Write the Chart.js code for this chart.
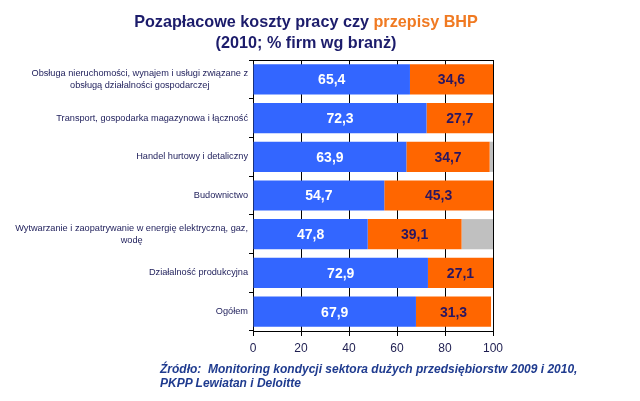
<!DOCTYPE html>
<html>
<head>
<meta charset="utf-8">
<script src="https://cdn.jsdelivr.net/npm/chart.js@4.4.1/dist/chart.umd.min.js"></script>
<style>
  html, body { margin: 0; padding: 0; background: #fff; }
  #wrap { position: relative; width: 640px; height: 401px; overflow: hidden; }
  #c { position: absolute; left: 0; top: 0; }
  #title { position: absolute; left: 106px; width: 400px; top: 11px; text-align: center;
    font: bold 16.2px "Liberation Sans", Arial, sans-serif; line-height: 21px; color: #1c1c6b; }
  #title .hl { color: #f07a22; }
  #source { position: absolute; left: 160px; top: 362px; width: 470px;
    font: italic bold 12px "Liberation Sans", Arial, sans-serif; line-height: 14px; color: #1f3b8f; }
</style>
</head>
<body>
<div id="wrap">
  <canvas id="c" width="640" height="401"></canvas>
  <div id="title">Pozapłacowe koszty pracy czy <span class="hl">przepisy BHP</span><br>(2010; % firm wg branż)</div>
  <div id="source">Źródło:&nbsp; Monitoring kondycji sektora dużych przedsiębiorstw 2009 i 2010,<br>PKPP Lewiatan i Deloitte</div>
</div>
<script>
const categories = [
  ['Obsługa nieruchomości, wynajem i usługi związane z', 'obsługą działalności gospodarczej'],
  ['Transport, gospodarka magazynowa i łączność'],
  ['Handel hurtowy i detaliczny'],
  ['Budownictwo'],
  ['Wytwarzanie i zaopatrywanie w energię elektryczną, gaz,', 'wodę'],
  ['Działalność produkcyjna'],
  ['Ogółem']
];
const pozaplacowe = [65.4, 72.3, 63.9, 54.7, 47.8, 72.9, 67.9];
const bhp = [34.6, 27.7, 34.7, 45.3, 39.1, 27.1, 31.3];
const reszta = [0, 0, 1.4, 0, 13.1, 0, 0];
const xTicks = [0, 20, 40, 60, 80, 100];

const FONT = '"Liberation Sans", Arial, sans-serif';

const labelsPlugin = {
  id: 'customLabels',
  afterDatasetsDraw(chart) {
    const ctx = chart.ctx;
    ctx.save();
    ctx.font = 'bold 14px ' + FONT;
    ctx.textAlign = 'center';
    ctx.textBaseline = 'middle';
    [0, 1].forEach(di => {
      const meta = chart.getDatasetMeta(di);
      meta.data.forEach((bar, i) => {
        const v = chart.data.datasets[di].data[i];
        const cx = (bar.x + bar.base) / 2;
        ctx.fillStyle = di === 0 ? '#ffffff' : '#2a1660';
        ctx.fillText(v.toFixed(1).replace('.', ','), cx, bar.y + 1);
      });
    });
    const a = chart.chartArea;
    ctx.strokeStyle = '#000';
    ctx.lineWidth = 1;
    ctx.beginPath();
    ctx.moveTo(a.left, a.top + 0.5);
    ctx.lineTo(a.right, a.top + 0.5);
    ctx.stroke();
    const y = chart.scales.y;
    ctx.font = '9.2px ' + FONT;
    ctx.fillStyle = '#23235e';
    ctx.textAlign = 'center';
    ctx.textBaseline = 'middle';
    const lh = 12;
    chart.data.labels.forEach((lines, i) => {
      const py = y.getPixelForValue(i);
      let w = 0;
      lines.forEach(l => { w = Math.max(w, ctx.measureText(l).width); });
      const cx = a.left - 5 - w / 2;
      const y0 = py - (lines.length - 1) * lh / 2;
      lines.forEach((l, k) => ctx.fillText(l, cx, y0 + k * lh));
    });
    ctx.restore();
  }
};

new Chart(document.getElementById('c'), {
  type: 'bar',
  data: {
    labels: categories,
    datasets: [
      { label: 'Pozapłacowe koszty pracy', data: pozaplacowe, backgroundColor: '#3366ff' },
      { label: 'Przepisy BHP', data: bhp, backgroundColor: '#ff6600' },
      { label: 'Inne', data: reszta, backgroundColor: '#c0c0c0' }
    ]
  },
  options: {
    indexAxis: 'y',
    responsive: false,
    animation: false,
    devicePixelRatio: 1,
    layout: { padding: { left: 0, top: 60, right: 147, bottom: 0 } },
    datasets: { bar: { categoryPercentage: 1, barPercentage: 0.78 } },
    plugins: { legend: { display: false }, title: { display: false }, tooltip: { enabled: false } },
    scales: {
      x: {
        stacked: true,
        min: 0, max: 100,
        afterBuildTicks(scale) { scale.ticks = xTicks.map(v => ({ value: v })); },
        afterFit(scale) { scale.height = 70; },
        grid: { color: '#000', lineWidth: 1, drawTicks: true, tickLength: 5 },
        border: { display: true, color: '#000' },
        ticks: { color: '#1e1e50', font: { size: 12, family: FONT }, padding: 5 }
      },
      y: {
        stacked: true,
        afterFit(scale) { scale.width = 253; },
        grid: { drawOnChartArea: false, drawTicks: true, tickLength: 4, color: '#000', offset: true },
        border: { display: true, color: '#000' },
        ticks: { display: false }
      }
    }
  },
  plugins: [labelsPlugin]
});
</script>
</body>
</html>
